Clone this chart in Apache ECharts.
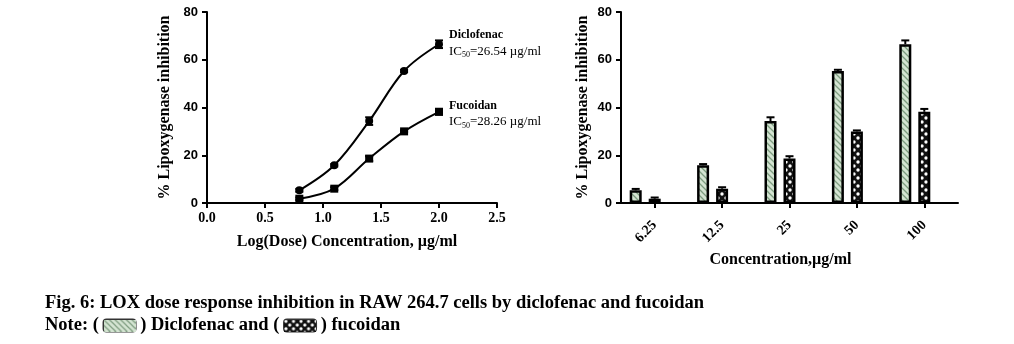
<!DOCTYPE html>
<html><head><meta charset="utf-8">
<script src="https://cdn.jsdelivr.net/npm/echarts@6/dist/echarts.min.js"></script>
<style>html,body{margin:0;padding:0;background:#fff}#c{width:1014px;height:344px}</style>
</head><body><div id="c"></div>
<script>
// ---- data ----
const categories = ['6.25', '12.5', '25', '50', '100'];
const logDose = [0.796, 1.097, 1.398, 1.699, 2.0];
const diclofenac = [5.3, 15.8, 34.3, 55.3, 66.5];
const fucoidan = [1.8, 6.0, 18.6, 30.0, 38.2];
const diclofenacErr = [0.6, 0.5, 1.6, 0.5, 1.6];
const fucoidanErr = [0.5, 0.6, 1.0, 0.4, 1.2];
const diclofenacIC50 = '26.54';
const fucoidanIC50 = '28.26';

// ---- style constants ----
const SERIF = '"Liberation Serif", "Times New Roman", serif';
const SANS = '"Liberation Sans", Arial, sans-serif';
const BAR_W = 12, BAR_GAP = 7;

function hatchCanvas() {
  const c = document.createElement('canvas'); c.width = 6; c.height = 6;
  const g = c.getContext('2d');
  g.fillStyle = '#d4e4d2'; g.fillRect(0, 0, 6, 6);
  g.strokeStyle = '#7e9c80'; g.lineWidth = 1.3;
  g.beginPath();
  g.moveTo(-1, -1); g.lineTo(7, 7);
  g.moveTo(-4, 2); g.lineTo(4, 10);
  g.moveTo(2, -4); g.lineTo(10, 4);
  g.stroke();
  return c;
}
function checkerCanvas() {
  const c = document.createElement('canvas'); c.width = 8; c.height = 8;
  const g = c.getContext('2d');
  g.fillStyle = '#111'; g.fillRect(0, 0, 8, 8);
  g.fillStyle = '#fff';
  g.beginPath(); g.arc(2, 2, 1.7, 0, Math.PI * 2); g.fill();
  g.beginPath(); g.arc(6, 6, 1.7, 0, Math.PI * 2); g.fill();
  return c;
}
function swatch(tile) {
  const c = document.createElement('canvas'); c.width = 34; c.height = 13;
  const g = c.getContext('2d');
  g.fillStyle = g.createPattern(tile, 'repeat'); g.fillRect(0, 0, 34, 13);
  return c;
}
const hatch = hatchCanvas();
const checker = checkerCanvas();
const hatchSwatch = swatch(hatch);
const checkerSwatch = swatch(checker);

function errorRender(offsetPx, twoSided) {
  return function (params, api) {
    const x = api.value(0);
    const pLo = api.coord([x, api.value(1)]);
    const pHi = api.coord([x, api.value(2)]);
    const cx = pLo[0] + offsetPx, cap = 4;
    const st = { stroke: '#000', lineWidth: 2 };
    const ch = [
      { type: 'line', shape: { x1: cx, y1: pLo[1], x2: cx, y2: pHi[1] }, style: st },
      { type: 'line', shape: { x1: cx - cap, y1: pHi[1], x2: cx + cap, y2: pHi[1] }, style: st }
    ];
    if (twoSided) ch.push({ type: 'line', shape: { x1: cx - cap, y1: pLo[1], x2: cx + cap, y2: pLo[1] }, style: st });
    return { type: 'group', children: ch };
  };
}

const axisLine = { show: true, lineStyle: { color: '#000', width: 2 } };
const axisTick = { show: true, length: 5, lineStyle: { color: '#000', width: 2 } };
const yLabel = { color: '#000', fontFamily: SANS, fontWeight: 'bold', fontSize: 13, margin: 9 };
const nameStyle = { color: '#000', fontFamily: SERIF, fontWeight: 'bold', fontSize: 16 };

const endRich = {
  n: { fontFamily: SERIF, fontWeight: 'bold', fontSize: 12, color: '#000', lineHeight: 16 },
  i: { fontFamily: SERIF, fontSize: 13, color: '#000', lineHeight: 16 },
  s: { fontFamily: SERIF, fontSize: 8, color: '#000', lineHeight: 16, verticalAlign: 'bottom', padding: [6, 0, 0, 0] }
};

const option = {
  animation: false,
  backgroundColor: '#fff',
  grid: [
    { left: 207, top: 12, width: 290, height: 191 },
    { left: 621, top: 12, width: 337, height: 191 }
  ],
  xAxis: [
    {
      gridIndex: 0, type: 'value', min: 0, max: 2.5, interval: 0.5,
      axisLine, axisTick, splitLine: { show: false },
      axisLabel: { color: '#000', fontFamily: SERIF, fontWeight: 'bold', fontSize: 14, margin: 8, formatter: v => v.toFixed(1) },
      name: 'Log(Dose) Concentration, µg/ml', nameLocation: 'middle', nameGap: 31,
      nameTextStyle: Object.assign({}, nameStyle, { padding: [0, 10, 0, 0] })
    },
    {
      gridIndex: 1, type: 'category', data: categories,
      axisLine, axisTick: Object.assign({}, axisTick, { alignWithLabel: true }),
      axisLabel: { color: '#000', fontFamily: SERIF, fontWeight: 'bold', fontSize: 14, rotate: 45, margin: 20 },
      name: 'Concentration,µg/ml', nameLocation: 'middle', nameGap: 48,
      nameTextStyle: Object.assign({}, nameStyle, { padding: [0, 18, 0, 0] })
    }
  ],
  yAxis: [
    {
      gridIndex: 0, type: 'value', min: 0, max: 80, interval: 20,
      axisLine, axisTick, splitLine: { show: false }, axisLabel: yLabel,
      name: '% Lipoxygenase inhibition', nameLocation: 'middle', nameGap: 34, nameTextStyle: nameStyle
    },
    {
      gridIndex: 1, type: 'value', min: 0, max: 80, interval: 20,
      axisLine, axisTick, splitLine: { show: false }, axisLabel: yLabel,
      name: '% Lipoxygenase inhibition', nameLocation: 'middle', nameGap: 30, nameTextStyle: nameStyle
    }
  ],
  series: [
    {
      name: 'Diclofenac', type: 'line', xAxisIndex: 0, yAxisIndex: 0,
      data: logDose.map((x, i) => [x, diclofenac[i]]),
      smooth: 0.35, symbol: 'circle', symbolSize: 8,
      lineStyle: { color: '#000', width: 2 }, itemStyle: { color: '#000' },
      endLabel: { show: true, distance: 10, formatter: '{n|Diclofenac}\n{i|IC}{s|50}{i|=' + diclofenacIC50 + ' µg/ml}', rich: endRich, offset: [0, -1] }
    },
    {
      name: 'Fucoidan', type: 'line', xAxisIndex: 0, yAxisIndex: 0,
      data: logDose.map((x, i) => [x, fucoidan[i]]),
      smooth: 0.35, symbol: 'rect', symbolSize: 8,
      lineStyle: { color: '#000', width: 2 }, itemStyle: { color: '#000' },
      endLabel: { show: true, distance: 10, formatter: '{n|Fucoidan}\n{i|IC}{s|50}{i|=' + fucoidanIC50 + ' µg/ml}', rich: endRich, offset: [0, 2] }
    },
    {
      type: 'custom', xAxisIndex: 0, yAxisIndex: 0, z: 5,
      data: logDose.map((x, i) => [x, diclofenac[i] - diclofenacErr[i], diclofenac[i] + diclofenacErr[i]]),
      renderItem: errorRender(0, true)
    },
    {
      type: 'custom', xAxisIndex: 0, yAxisIndex: 0, z: 5,
      data: logDose.map((x, i) => [x, fucoidan[i] - fucoidanErr[i], fucoidan[i] + fucoidanErr[i]]),
      renderItem: errorRender(0, true)
    },
    {
      name: 'Diclofenac', type: 'bar', xAxisIndex: 1, yAxisIndex: 1, data: diclofenac,
      barWidth: BAR_W, barGap: (BAR_GAP / BAR_W * 100) + '%',
      itemStyle: { color: { image: hatch, repeat: 'repeat' }, borderColor: '#000', borderWidth: 2.5 }
    },
    {
      name: 'Fucoidan', type: 'bar', xAxisIndex: 1, yAxisIndex: 1, data: fucoidan,
      barWidth: BAR_W, barGap: (BAR_GAP / BAR_W * 100) + '%',
      itemStyle: { color: { image: checker, repeat: 'repeat' }, borderColor: '#000', borderWidth: 2.5 }
    },
    {
      name: '', type: 'bar', xAxisIndex: 1, yAxisIndex: 1, data: categories.map(() => null),
      barWidth: BAR_W, barGap: (BAR_GAP / BAR_W * 100) + '%', silent: true
    },
    {
      type: 'custom', xAxisIndex: 1, yAxisIndex: 1, z: 5,
      data: categories.map((c, i) => [i, diclofenac[i], diclofenac[i] + diclofenacErr[i]]),
      renderItem: errorRender(-(BAR_W + BAR_GAP), false)
    },
    {
      type: 'custom', xAxisIndex: 1, yAxisIndex: 1, z: 5,
      data: categories.map((c, i) => [i, fucoidan[i], fucoidan[i] + fucoidanErr[i]]),
      renderItem: errorRender(0, false)
    }
  ],
  graphic: [
    {
      type: 'text', left: 45, top: 294,
      style: {
        text: '{t|Fig. 6: LOX dose response inhibition in RAW 264.7 cells by diclofenac and fucoidan}\n' +
              '{t|Note: ( }{a|}{t| ) Diclofenac and ( }{b|}{t| ) fucoidan}',
        rich: {
          t: { fontFamily: SERIF, fontWeight: 'bold', fontSize: 18.5, fill: '#000', lineHeight: 22 },
          a: { width: 32, height: 12, backgroundColor: { image: hatchSwatch }, borderColor: '#333', borderWidth: 2, borderRadius: 3 },
          b: { width: 32, height: 12, backgroundColor: { image: checkerSwatch }, borderColor: '#333', borderWidth: 2, borderRadius: 3 }
        }
      }
    }
  ]
};

const chart = echarts.init(document.getElementById('c'), null, { renderer: 'canvas' });
chart.setOption(option);
</script>
</body></html>
